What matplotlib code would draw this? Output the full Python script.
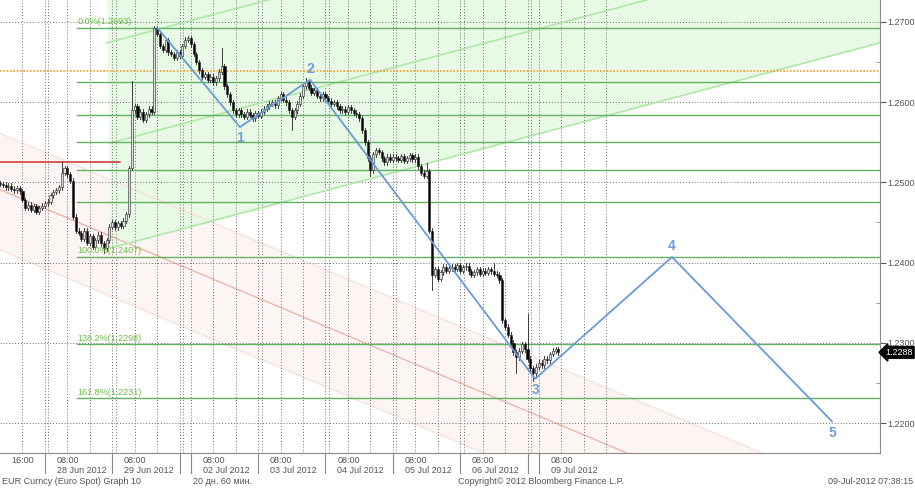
import matplotlib
matplotlib.use('Agg')
import matplotlib.pyplot as plt
import matplotlib.transforms as mtransforms

plt.rcParams['font.family'] = ['Liberation Sans', 'DejaVu Sans']

# ---- data (x = hourly bar index, y = EUR/USD price) ----
closes = [
    1.2498, 1.2497, 1.2494, 1.2496, 1.2492, 1.2490, 1.2493, 1.2489,
    1.2478, 1.2468, 1.2472,
    1.2466, 1.2470, 1.2463, 1.2468, 1.2471,
    1.2474, 1.2476, 1.2484, 1.2488,
    1.2490, 1.2494, 1.2512, 1.2518, 1.2510, 1.2502,
    1.2457, 1.2440,
    1.2437, 1.2430, 1.2440, 1.2425, 1.2433, 1.2420, 1.2428, 1.2435, 1.2424, 1.2418, 1.2428,
    1.2445, 1.2450, 1.2444, 1.2449, 1.2446, 1.2452,
    1.2460, 1.2518, 1.2590,
    1.2595, 1.2582, 1.2588, 1.2578, 1.2585, 1.2592, 1.2588,
    1.2692, 1.2685,
    1.2670, 1.2665, 1.2677, 1.2662,
    1.2660, 1.2655, 1.2662, 1.2658,
    1.2670, 1.2678, 1.2680, 1.2672,
    1.2660, 1.2650, 1.2640, 1.2632,
    1.2635, 1.2628, 1.2632, 1.2625, 1.2630, 1.2638, 1.2645,
    1.2620, 1.2610, 1.2600, 1.2590, 1.2585,
    1.2590, 1.2585, 1.2582, 1.2588, 1.2584, 1.2580, 1.2586, 1.2583, 1.2588,
    1.2592, 1.2595, 1.2598, 1.2600, 1.2596,
    1.2605, 1.2610, 1.2603, 1.2600, 1.2590,
    1.2582,
    1.2590, 1.2598, 1.2608,
    1.2620, 1.2625, 1.2618,
    1.2612, 1.2615, 1.2608, 1.2605,
    1.2610, 1.2605, 1.2602, 1.2598, 1.2600,
    1.2595, 1.2590, 1.2592, 1.2588, 1.2594, 1.2590, 1.2587, 1.2585,
    1.2580, 1.2565, 1.2550, 1.2530,
    1.2515,
    1.2535, 1.2540, 1.2538, 1.2530, 1.2525, 1.2532, 1.2528,
    1.2532, 1.2530, 1.2528, 1.2533, 1.2527, 1.2530, 1.2534, 1.2529, 1.2532,
    1.2520, 1.2512, 1.2508,
    1.2514, 1.2440, 1.2385,
    1.2392, 1.2380, 1.2388, 1.2395, 1.2390, 1.2393,
    1.2395, 1.2392, 1.2397, 1.2390, 1.2394, 1.2396, 1.2389, 1.2385,
    1.2388, 1.2392, 1.2386, 1.2390, 1.2387, 1.2392, 1.2389, 1.2386,
    1.2385, 1.2378,
    1.2328,
    1.2320, 1.2310, 1.2300,
    1.2288, 1.2282, 1.2290,
    1.2298, 1.2292,
    1.2280,
    1.2268, 1.2262, 1.2270,
    1.2275, 1.2272, 1.2280, 1.2278,
    1.2286, 1.2290, 1.2292, 1.2288,
]
first_open = 1.2499
wick = 0.0003
bar_highs = {22: 1.2525, 47: 1.2627, 55: 1.2695, 79: 1.2667, 109: 1.2630,
             152: 1.2524, 176: 1.2400, 188: 1.2336}
bar_lows = {37: 1.2412, 104: 1.2565, 132: 1.2508, 154: 1.2366, 184: 1.2262,
            190: 1.2253}

last_price = 1.2288

fib_levels = [1.2693, 1.2625, 1.2584, 1.2550, 1.2516, 1.2475, 1.2407, 1.2298, 1.2231]
fib_text = {1.2693: '0.0%(1.2693)', 1.2407: '100.0%(1.2407)',
            1.2298: '138.2%(1.2298)', 1.2231: '161.8%(1.2231)'}
fib_start = 27.4

wave_x = [56, 85.5, 110.5, 190.7, 239.5, 296.5]
wave_y = [1.2693, 1.2569, 1.2628, 1.2255, 1.2407, 1.2202]
wave_names = ['', '1', '2', '3', '4', '5']
wave_side = [0, -1, 1, -1, 1, -1]

green_channel = [((38.1, 1.2674), (313.6, 1.2930)),
                 ((39.2, 1.2549), (313.6, 1.2805)),
                 ((39.2, 1.2418), (313.6, 1.2674))]
red_channel = [((0, 1.2561), (313.6, 1.2101)),
               ((0, 1.2491), (313.6, 1.2030)),
               ((0, 1.2416), (313.6, 1.1955))]
red_level = 1.2525
red_level_end = 42.8
orange_level = 1.2639

day_starts = [16, 40, 68, 92, 116, 140, 164, 192]
day_labels = ['28 Jun 2012', '29 Jun 2012', '02 Jul 2012', '03 Jul 2012',
              '04 Jul 2012', '05 Jul 2012', '06 Jul 2012', '09 Jul 2012']
double_lines = [16, 40, 64, 92, 116, 140, 164, 188]
single_lines = [8, 68, 192, 216]
separators = [16, 40, 64, 68, 92, 116, 140, 164, 188, 192]

price_ticks = [1.22, 1.23, 1.24, 1.25, 1.26, 1.27]

# ---- figure ----
fig = plt.figure(figsize=(9.15, 4.88), dpi=100)
ax = fig.add_axes([0, 0.0717, 0.9617, 0.9283])
ax.set_xlim(0, 313.6)
ax.set_ylim(1.21626, 1.27274)
ytop = 1.28

# pink down channel
(a, b), (c, d) = red_channel[0], red_channel[2]
ax.fill([a[0], b[0], d[0], c[0]], [a[1], b[1], d[1], c[1]], color='#fdf5f3', lw=0, zorder=0)
ax.plot([a[0], b[0]], [a[1], b[1]], color='#f6e2dc', lw=1, zorder=1)
ax.plot([c[0], d[0]], [c[1], d[1]], color='#f6e2dc', lw=1, zorder=1)
m = red_channel[1]
ax.plot([m[0][0], m[1][0]], [m[0][1], m[1][1]], color='#eab0a4', lw=0.9, zorder=1)

# green up channel
top, low = green_channel[0], green_channel[2]
ax.fill([top[0][0], low[0][0], low[1][0], low[1][0], top[0][0]],
        [ytop, low[0][1], low[1][1], ytop, ytop],
        color='#e8fae6', lw=0, zorder=0.5)
for (p, q) in green_channel:
    ax.plot([p[0], q[0]], [p[1], q[1]], color='#b0e6a8', lw=1.2, zorder=2)

# grid
gkw = dict(color='#6e6e6e', lw=0.7, ls=(0, (1, 2)), zorder=1)
for yv in price_ticks:
    ax.axhline(yv, **gkw)
for d0 in double_lines:
    ax.axvline(d0, **gkw)
    ax.axvline(d0 + 1.2, **gkw)
for d0 in single_lines:
    ax.axvline(d0, **gkw)
for d0 in day_starts:
    for h in (8, 16):
        if d0 + h not in single_lines:
            ax.axvline(d0 + h, **gkw)

ax.axhline(orange_level, color='#f0a030', lw=1.2, ls=(0, (1, 1)), zorder=2)
ax.plot([0, red_level_end], [red_level, red_level], color='#c83030', lw=1.1, zorder=2)

# fibonacci levels
for lv in fib_levels:
    ax.plot([fib_start, 313.6], [lv, lv], color='#62b262', lw=1.0, zorder=2)
    if lv in fib_text:
        ax.text(fib_start + 0.3, lv + 0.0002, fib_text[lv], color='#6cc04a',
                fontsize=6.5, ha='left', va='bottom', zorder=5)

# candles
opens = [first_open] + closes[:-1]
xs = list(range(len(closes)))
for i, o, c in zip(xs, opens, closes):
    hi = bar_highs.get(i, max(o, c) + wick)
    lo = bar_lows.get(i, min(o, c) - wick)
    ax.plot([i, i], [lo, hi], color='#202020', lw=0.6, zorder=3)
    h = max(abs(c - o), 0.00006)
    fc = '#e0e0e0' if c >= o else 'black'
    ax.bar(i, h, bottom=min(o, c), width=0.75, color=fc, edgecolor='#202020',
           linewidth=0.4, zorder=3.5)

# elliott waves
ax.plot(wave_x, wave_y, color='#6a9bd8', lw=1.3, zorder=4)
for x, y, n, s in zip(wave_x, wave_y, wave_names, wave_side):
    if n:
        ax.annotate(n, (x, y), xytext=(0, 8 * s), textcoords='offset points',
                    ha='center', va='center', color='#6f9fdc', fontsize=10,
                    fontweight='bold', zorder=5)

# axes styling
for side in ('top', 'left'):
    ax.spines[side].set_visible(False)
for side in ('right', 'bottom'):
    ax.spines[side].set_color('#8a8a8a')
ax.yaxis.tick_right()
ax.set_yticks(price_ticks)
ax.set_yticklabels(['%.4f' % v for v in price_ticks])
ax.set_yticks([1.2250, 1.2350, 1.2450, 1.2550, 1.2650], minor=True)
ax.tick_params(axis='y', which='major', direction='out', length=4, pad=1,
               labelsize=6.5, labelcolor='#555555', color='#555555')
ax.tick_params(axis='y', which='minor', direction='in', length=3, color='#888888')
ax.set_xticks([])

# price flag
tr = mtransforms.blended_transform_factory(ax.transAxes, ax.transData)
ax.text(1.006, last_price, '1.2288', transform=tr, ha='left', va='center',
        color='white', fontsize=6.5, zorder=6,
        bbox=dict(boxstyle='larrow,pad=0.15', fc='black', ec='black'))

# x labels under axis
xt = ax.get_xaxis_transform()
for s in separators:
    ax.plot([s, s], [0, -0.045], color='#8a8a8a', lw=0.8, transform=xt, clip_on=False)
ax.text(8, -0.006, '16:00', transform=xt, ha='center', va='top', fontsize=6.5,
        color='#555555')
for d0, lab in zip(day_starts, day_labels):
    ax.text(d0 + 4.2, -0.006, '08:00\n' + lab, transform=xt, ha='left', va='top',
            fontsize=6.5, color='#555555', linespacing=1.2)

fig.text(2 / 915, 0.014, 'EUR Curncy (Euro Spot) Graph 10', fontsize=6.5,
         color='#555555', va='center')
fig.text(193 / 915, 0.014, '20 дн. 60 мин.', fontsize=6.5, color='#555555', va='center')
fig.text(458 / 915, 0.014, 'Copyright\u00a9 2012 Bloomberg Finance L.P.', fontsize=6.5,
         color='#555555', va='center')
fig.text(913 / 915, 0.014, '09-Jul-2012 07:38:15', fontsize=6.5, color='#555555',
         va='center', ha='right')

fig.savefig('out.png', dpi=100)
